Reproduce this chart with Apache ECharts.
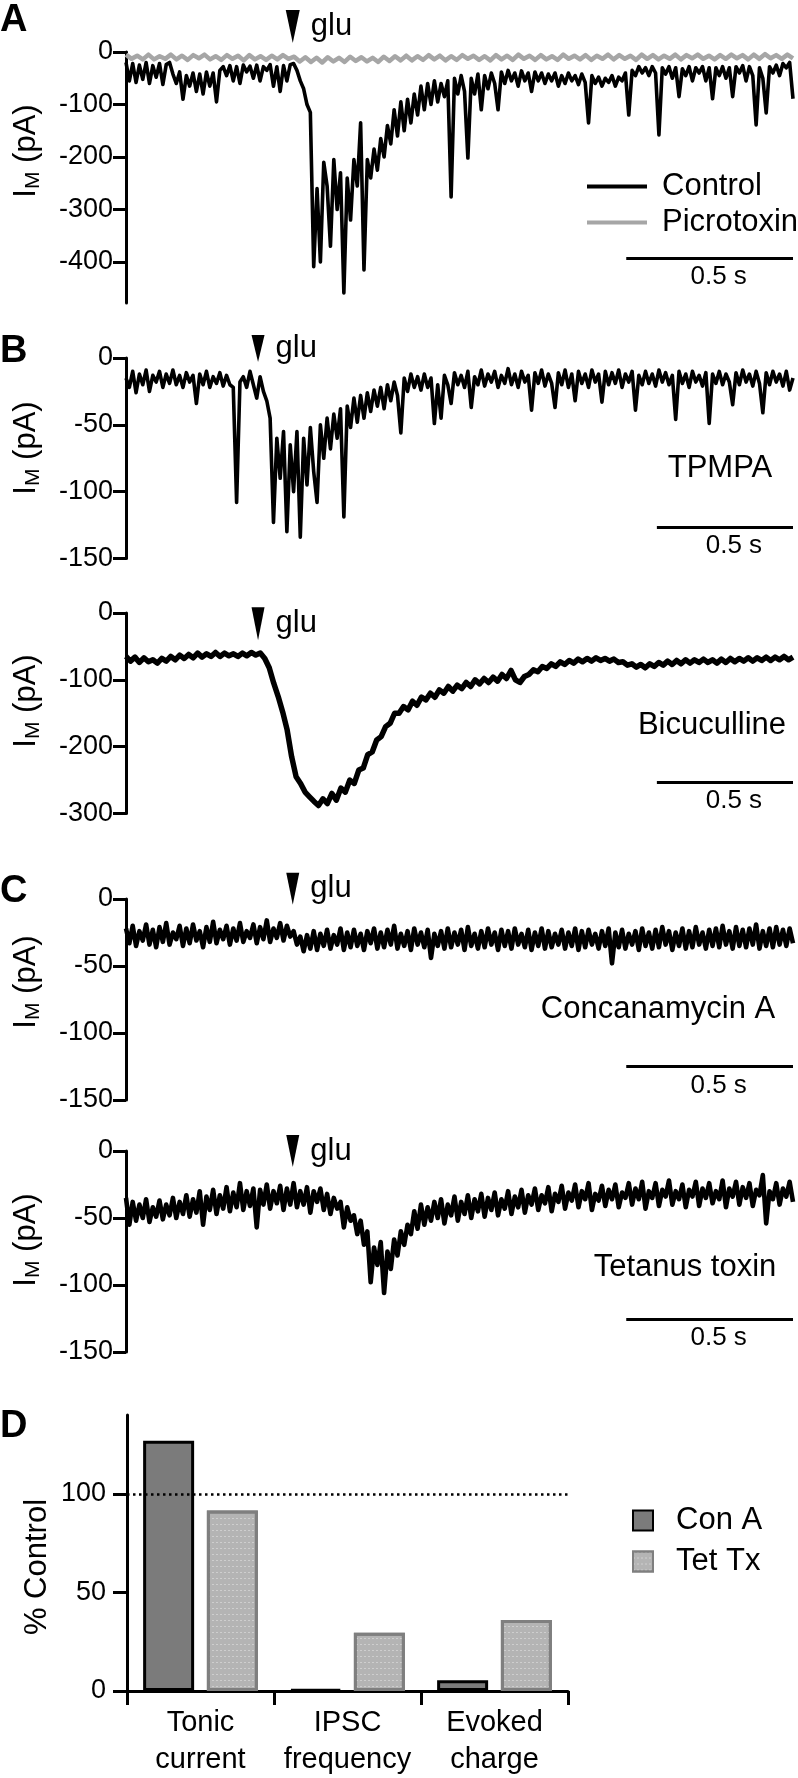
<!DOCTYPE html>
<html><head><meta charset="utf-8">
<script src="https://cdn.jsdelivr.net/npm/echarts@6/dist/echarts.min.js"></script>
<style>html,body{margin:0;padding:0;background:#fff}#c{width:798px;height:1778px}</style>
</head><body><div id="c"></div>
<script>
const FONT = '"Liberation Sans", Arial, Helvetica, sans-serif';

// ---------- Panel A (0–2.0 s) ----------
const controlA = [-20,-55,-22,-58,-25,-52,-20,-60,-26,-48,
-22,-62,-24,-20,-42,-60,-38,-90,-45,-65,
-40,-75,-42,-80,-38,-65,-40,-95,-35,-28,
-45,-26,-55,-28,-60,-25,-38,-27,-50,-25,
-55,-28,-35,-24,-65,-28,-75,-26,-55,-24,
-22,-35,-55,-70,-100,-115,-409,-260,-400,-210,
-255,-370,-205,-300,-230,-459,-240,-320,-205,-255,
-135,-415,-205,-240,-185,-225,-165,-200,-140,-175,
-110,-160,-95,-150,-90,-135,-80,-120,-65,-110,
-60,-100,-55,-95,-60,-85,-55,-276,-50,-80,
-45,-75,-202,-50,-80,-42,-110,-45,-70,-40,
-60,-110,-38,-60,-35,-55,-40,-65,-36,-55,
-40,-75,-38,-55,-40,-60,-42,-55,-40,-65,
-45,-60,-40,-55,-45,-62,-42,-58,-135,-45,
-60,-48,-65,-50,-58,-45,-65,-48,-55,-40,
-120,-35,-45,-28,-40,-30,-45,-28,-40,-158,
-30,-42,-28,-50,-30,-85,-32,-45,-28,-55,
-30,-40,-28,-55,-30,-89,-30,-45,-28,-50,
-30,-85,-28,-40,-26,-55,-28,-45,-139,-30,
-50,-116,-28,-40,-25,-45,-22,-30,-20,-89];
const picrotoxinA = [-5,-13,-7,-14,-5,-14,-8,-13,-5,-14,
-7,-15,-6,-12,-5,-14,-8,-15,-6,-13,
-7,-16,-6,-14,-8,-15,-7,-14,-6,-13,
-9,-18,-10,-19,-11,-20,-10,-18,-11,-19,
-9,-17,-10,-18,-11,-19,-9,-17,-8,-16,
-7,-16,-8,-15,-6,-14,-7,-16,-8,-15,
-6,-13,-7,-15,-8,-16,-6,-14,-7,-15,
-5,-13,-7,-15,-6,-14,-8,-15,-5,-13,
-7,-14,-6,-15,-7,-13,-5,-14,-6,-13,
-7,-15,-5,-13,-6,-14,-7,-13,-5,-14,
-6,-12,-5,-13,-7,-14,-6,-13,-5,-12,
-6,-14,-5,-13,-4,-12,-6,-13,-5,-12];

// ---------- Panel B (0–2.45 s) ----------
const tpmpaB = [-15,-22,-10,-26,-12,-20,-9,-25,-13,-18,
-10,-22,-12,-19,-9,-20,-13,-22,-11,-18,
-13,-34,-12,-20,-10,-22,-14,-19,-11,-21,
-13,-20,-22,-108,-18,-14,-22,-10,-20,-30,
-14,-25,-32,-45,-123,-60,-90,-55,-130,-65,
-100,-55,-134,-60,-95,-52,-85,-108,-50,-75,
-45,-68,-42,-60,-38,-119,-36,-52,-30,-48,
-28,-45,-26,-40,-24,-36,-22,-38,-20,-32,
-18,-28,-56,-15,-25,-12,-22,-14,-24,-12,
-22,-15,-49,-20,-45,-13,-20,-34,-11,-20,
-13,-22,-10,-37,-14,-20,-9,-21,-12,-18,
-10,-22,-13,-19,-8,-20,-12,-22,-10,-18,
-13,-39,-11,-19,-9,-21,-12,-19,-37,-11,
-20,-9,-22,-12,-32,-10,-19,-12,-22,-9,
-18,-12,-33,-10,-20,-11,-19,-9,-22,-12,
-18,-10,-39,-13,-20,-10,-19,-12,-21,-9,
-18,-11,-20,-13,-46,-10,-19,-12,-22,-10,
-18,-13,-21,-11,-49,-12,-19,-10,-20,-12,
-18,-35,-11,-20,-9,-18,-12,-21,-10,-19,
-41,-11,-20,-10,-18,-12,-21,-10,-24,-15];
const bicucullineB = [-65,-72,-66,-74,-67,-73,-70,-75,-68,-72,
-65,-70,-63,-68,-62,-67,-60,-66,-61,-65,
-59,-65,-60,-64,-61,-65,-60,-64,-59,-63,
-60,-68,-82,-105,-125,-148,-175,-215,-245,-255,
-268,-275,-282,-288,-278,-285,-270,-280,-262,-268,
-250,-255,-235,-232,-212,-208,-190,-185,-170,-165,
-150,-150,-140,-145,-132,-138,-126,-130,-120,-126,
-115,-120,-110,-117,-108,-113,-104,-110,-100,-106,
-98,-104,-96,-102,-92,-98,-86,-100,-104,-95,
-92,-85,-88,-80,-83,-76,-80,-73,-77,-71,
-75,-69,-73,-68,-72,-67,-71,-68,-72,-69,
-74,-73,-78,-76,-81,-77,-82,-76,-80,-74,
-78,-72,-77,-71,-76,-70,-75,-70,-74,-69,
-74,-70,-75,-69,-74,-68,-73,-68,-72,-67,
-72,-67,-71,-66,-71,-66,-70,-65,-70,-66];

// ---------- Panel C (0–2.0 s) ----------
const concanamycinC = [-22,-33,-20,-35,-24,-31,-19,-34,-23,-36,
-21,-32,-18,-34,-25,-30,-20,-35,-22,-33,
-19,-31,-24,-36,-21,-32,-17,-33,-23,-30,
-20,-34,-22,-31,-18,-32,-24,-29,-19,-33,
-21,-30,-16,-32,-22,-29,-18,-31,-20,-28,
-24,-34,-28,-39,-27,-37,-24,-38,-26,-35,
-23,-37,-27,-34,-22,-38,-25,-36,-23,-35,
-26,-38,-24,-33,-22,-37,-25,-36,-23,-34,
-20,-37,-26,-35,-24,-38,-22,-34,-25,-36,
-23,-44,-26,-35,-24,-37,-22,-36,-25,-34,
-23,-38,-21,-35,-26,-37,-24,-36,-22,-34,
-25,-38,-23,-35,-24,-37,-22,-34,-26,-36,
-23,-38,-25,-35,-22,-37,-24,-36,-26,-34,
-23,-37,-25,-35,-22,-38,-24,-36,-23,-34,
-26,-37,-24,-35,-22,-48,-25,-36,-23,-37,
-26,-34,-24,-38,-22,-35,-25,-37,-23,-36,
-21,-34,-24,-38,-25,-35,-22,-37,-24,-36,
-21,-34,-25,-37,-23,-35,-22,-36,-20,-34,
-24,-37,-21,-35,-23,-36,-22,-34,-19,-37,
-24,-35,-22,-36,-21,-34,-23,-35,-22,-33];
const tetanusC = [-35,-55,-38,-52,-40,-50,-36,-53,-42,-49,
-37,-51,-40,-48,-35,-50,-38,-47,-33,-49,
-36,-46,-30,-55,-34,-44,-29,-47,-33,-43,
-27,-45,-31,-42,-24,-44,-30,-41,-28,-57,
-29,-40,-25,-43,-30,-39,-26,-44,-28,-40,
-24,-42,-30,-40,-27,-46,-30,-38,-28,-44,
-32,-47,-35,-43,-38,-57,-42,-52,-48,-62,
-52,-70,-60,-98,-72,-85,-68,-106,-75,-88,
-66,-78,-60,-70,-55,-62,-45,-58,-40,-55,
-42,-52,-38,-50,-36,-54,-40,-48,-34,-52,
-38,-47,-33,-50,-36,-45,-32,-49,-35,-44,
-31,-48,-36,-43,-30,-47,-34,-42,-29,-46,
-33,-40,-28,-44,-33,-39,-27,-45,-32,-38,
-26,-43,-31,-37,-25,-42,-30,-36,-24,-44,
-32,-37,-26,-41,-29,-36,-25,-42,-31,-35,
-24,-40,-28,-36,-23,-43,-30,-35,-24,-41,
-29,-34,-22,-40,-30,-36,-25,-42,-29,-34,
-23,-41,-28,-35,-24,-39,-30,-36,-22,-42,
-28,-34,-23,-40,-27,-35,-24,-41,-29,-33,
-18,-54,-30,-36,-24,-40,-28,-34,-23,-38];

// ---------- Panel D ----------
const barCategories = ['Tonic\ncurrent', 'IPSC\nfrequency', 'Evoked\ncharge'];
const conAPercent = [127, 0.8, 5.5];
const tetTxPercent = [91.5, 29.5, 36];

// axis ticks
const ticksA = [0, -100, -200, -300, -400];
const ticksB1 = [0, -50, -100, -150];
const ticksB2 = [0, -100, -200, -300];
const ticksC = [0, -50, -100, -150];
const ticksD = [0, 50, 100];

// sweep durations (s) and glutamate application times (s)
const durA = 2.0, durB = 2.45, durC = 2.0;
const gluA = 0.5, gluB = 0.485, gluC = 0.5;

function sweep(arr, dur) { return arr.map((v, i) => [i * dur / (arr.length - 1), v]); }

const chart = echarts.init(document.getElementById('c'), null, {renderer: 'canvas'});

const grids = [
  {left: 126, top: 52, width: 667, height: 251},
  {left: 126, top: 358, width: 667, height: 200.5},
  {left: 126, top: 613, width: 667, height: 200.5},
  {left: 126, top: 899, width: 667, height: 201},
  {left: 126, top: 1151, width: 667, height: 201},
  {left: 127, top: 1415, width: 441, height: 276}
].map(g => Object.assign(g, {containLabel: false, outerBoundsMode: 'none'}));

function traceX(gi, dur) { return {type: 'value', gridIndex: gi, min: 0, max: dur, show: false}; }
function traceY(gi, min, ticks) {
  return {type: 'value', gridIndex: gi, min: min, max: 0,
    axisLine: {show: true, onZero: false, lineStyle: {color: '#000', width: 3}},
    axisTick: {show: true, length: 13, lineStyle: {color: '#000', width: 3}, customValues: ticks},
    axisLabel: {fontSize: 27, color: '#000', fontFamily: FONT, margin: 13, customValues: ticks},
    splitLine: {show: false}};
}

// glutamate arrow: scatter point with a down-pointing arrowhead symbol
function gluArrow(gi, t, v, w, h) {
  return {name: 'glu', type: 'scatter', xAxisIndex: gi, yAxisIndex: gi, data: [[t, v]], clip: false, silent: true,
    symbol: 'path://M0,0L14,0L7,33Z', symbolSize: [w, h], symbolKeepAspect: false,
    itemStyle: {color: '#000', opacity: 1}, emphasis: {disabled: true},
    label: {show: true, position: 'right', distance: 11, formatter: 'glu', fontSize: 31, color: '#000', opacity: 1, fontFamily: FONT}};
}
function scaleBar(t1, t2, v) {
  return {silent: true, symbol: ['none', 'none'],
    lineStyle: {color: '#000', width: 3, type: 'solid'},
    label: {show: true, position: 'insideMiddleBottom', distance: 6, padding: [0, 0, 0, 18], formatter: '0.5 s', fontSize: 26, color: '#000', fontFamily: FONT},
    data: [[{coord: [t1, v]}, {coord: [t2, v]}]]};
}
function trace(name, gi, arr, dur, color, width, extra) {
  return Object.assign({name: name, type: 'line', xAxisIndex: gi, yAxisIndex: gi, data: sweep(arr, dur),
    showSymbol: false, symbol: 'none', clip: false, animation: false,
    lineStyle: {color: color, width: width, join: 'round'}, itemStyle: {color: color}, emphasis: {disabled: true}}, extra || {});
}

function gtext(text, x, y, size, extra) {
  return Object.assign({type: 'text', x: x, y: y, silent: true,
    style: {text: text, fill: '#000', fontSize: size, fontFamily: FONT, fontWeight: 'normal',
      align: 'center', verticalAlign: 'middle', textAlign: 'center', textVerticalAlign: 'middle'}}, extra || {});
}
function letter(t, x, y) {
  return {type: 'text', x: x, y: y, silent: true,
    style: {text: t, fill: '#000', fontSize: 38, fontWeight: 'bold', fontFamily: FONT,
      align: 'left', verticalAlign: 'middle', textAlign: 'left', textVerticalAlign: 'middle'}};
}
function imTitle(y) {
  return {type: 'text', x: 26, y: y, rotation: Math.PI / 2, silent: true,
    style: {text: '{a|I}{s|M}{a| (pA)}', fill: '#000',
      align: 'center', verticalAlign: 'middle', textAlign: 'center', textVerticalAlign: 'middle',
      rich: {a: {fontSize: 31, fontFamily: FONT, fill: '#000', color: '#000', lineHeight: 36},
             s: {fontSize: 21, fontFamily: FONT, fill: '#000', color: '#000', lineHeight: 21, verticalAlign: 'bottom'}}}};
}

const option = {
  animation: false,
  backgroundColor: '#fff',
  textStyle: {fontFamily: FONT},
  grid: grids,
  xAxis: [
    traceX(0, durA), traceX(1, durB), traceX(2, durB), traceX(3, durC), traceX(4, durC),
    {type: 'category', gridIndex: 5, data: barCategories,
      axisLine: {show: true, lineStyle: {color: '#000', width: 3}},
      axisTick: {show: true, length: 14, lineStyle: {color: '#000', width: 3}},
      axisLabel: {interval: 0, hideOverlap: false, fontSize: 29, lineHeight: 37, margin: 13, color: '#000', fontFamily: FONT}}
  ],
  yAxis: [
    traceY(0, -478, ticksA), traceY(1, -150, ticksB1), traceY(2, -300, ticksB2),
    traceY(3, -150, ticksC), traceY(4, -150, ticksC),
    {type: 'value', gridIndex: 5, min: 0, max: 140,
      axisLine: {show: true, onZero: false, lineStyle: {color: '#000', width: 3}},
      axisTick: {show: true, length: 14, lineStyle: {color: '#000', width: 3}, customValues: ticksD},
      axisLabel: {fontSize: 27, color: '#000', fontFamily: FONT, margin: 21, customValues: ticksD},
      splitLine: {show: false}}
  ],
  legend: [
    {data: ['Control', 'Picrotoxin'], orient: 'vertical', left: 582, top: 166, icon: 'rect',
      itemWidth: 60, itemHeight: 4, itemGap: 5, selectedMode: false,
      textStyle: {fontSize: 31, lineHeight: 31, color: '#000', fontFamily: FONT, padding: [0, 0, 0, 10]}},
    {data: ['Con A', 'Tet Tx'], orient: 'vertical', left: 627, top: 1500, icon: 'rect',
      itemWidth: 20, itemHeight: 20, itemGap: 10, selectedMode: false,
      textStyle: {fontSize: 31, lineHeight: 30, color: '#000', fontFamily: FONT, padding: [0, 0, 0, 18]}}
  ],
  series: [
    trace('Picrotoxin', 0, picrotoxinA, durA, '#a6a6a6', 4.5),
    trace('Control', 0, controlA, durA, '#000', 3.6, {markLine: scaleBar(1.5, 2.0, -392)}),
    gluArrow(0, gluA, 48.6, 14, 33),
    trace('TPMPA', 1, tpmpaB, durB, '#000', 3.6, {markLine: scaleBar(1.95, 2.45, -126.4)}),
    gluArrow(1, gluB, 7.1, 13, 27),
    trace('Bicuculline', 2, bicucullineB, durB, '#000', 5.5, {markLine: scaleBar(1.95, 2.45, -252.6)}),
    gluArrow(2, gluB, -16.1, 13, 33),
    trace('Concanamycin A', 3, concanamycinC, durC, '#000', 4.6, {markLine: scaleBar(1.5, 2.0, -124.9)}),
    gluArrow(3, gluC, 7.7, 13, 32),
    trace('Tetanus toxin', 4, tetanusC, durC, '#000', 4.6, {markLine: scaleBar(1.5, 2.0, -125.4)}),
    gluArrow(4, gluC, 0, 13, 32),
    {name: 'Con A', type: 'bar', xAxisIndex: 5, yAxisIndex: 5, data: conAPercent, barWidth: 51, barGap: '25%',
      itemStyle: {color: '#7b7b7b', borderColor: '#000', borderWidth: 3}, emphasis: {disabled: true},
      markLine: {silent: true, symbol: ['none', 'none'], label: {show: false},
        lineStyle: {color: '#000', type: [2.5, 3.5], width: 2.5}, data: [{yAxis: 100}]}},
    {name: 'Tet Tx', type: 'bar', xAxisIndex: 5, yAxisIndex: 5, data: tetTxPercent, barWidth: 51, barGap: '25%',
      itemStyle: {color: '#b4b4b4', borderColor: '#7f7f7f', borderWidth: 3,
        decal: {symbol: 'rect', symbolSize: 1, dashArrayX: [2, 2], dashArrayY: [1, 5], color: 'rgba(255,255,255,0.35)'}},
      emphasis: {disabled: true}}
  ],
  graphic: [
    letter('A', 0, 21), letter('B', 0, 352), letter('C', 0, 892), letter('D', 0, 1427),
    imTitle(151), imTitle(448), imTitle(701), imTitle(982), imTitle(1240),
    gtext('% Control', 37, 1567, 31, {rotation: Math.PI / 2}),
    gtext('TPMPA', 720, 468, 31),
    gtext('Bicuculline', 712, 725, 31),
    gtext('Concanamycin A', 658, 1009, 31),
    gtext('Tetanus toxin', 685, 1267, 31)
  ]
};
chart.setOption(option);
</script></body></html>
